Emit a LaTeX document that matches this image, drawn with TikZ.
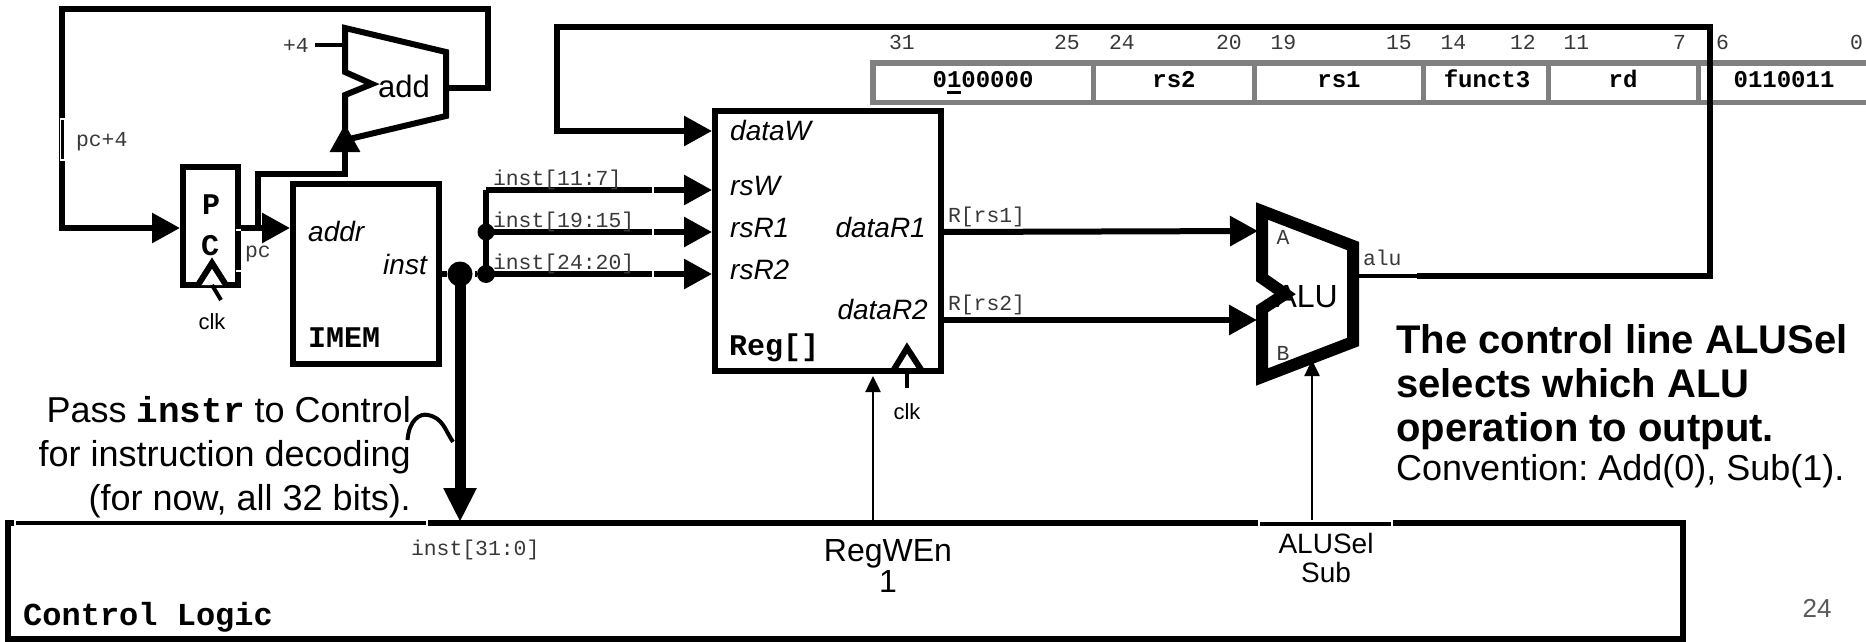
\documentclass[tikz,border=0pt]{standalone}
\usepackage{fontspec}
\setmainfont{Liberation Sans}
\setmonofont{Liberation Mono}
\usetikzlibrary{arrows.meta}
\newcommand{\fsz}[1]{\fontsize{#1}{#1}\selectfont}
\tikzset{
  x=1pt,y=-1pt,
  wire/.style={line width=6pt,line join=miter},
  big/.style={-{Triangle[length=28pt,width=29pt]}},
  small/.style={-{Triangle[length=16pt,width=15pt]},line width=2.5pt},
  blk/.style={draw,line width=6pt,inner sep=0pt,fill=none},
  dot/.style={circle,fill=black,inner sep=0pt},
  lbl/.style={inner sep=0pt,outer sep=0pt,text=black!78,font=\ttfamily\fsz{21.4}},
  fname/.style={inner sep=0pt,font=\fsz{28}\itshape},
  mb/.style={inner sep=0pt,font=\ttfamily\bfseries\fsz{30}},
  bitn/.style={lbl,anchor=base west},
  field/.style={inner sep=0pt,anchor=base,font=\ttfamily\bfseries\fsz{24}},
  fbox/.style={draw=black!50,line width=5.5pt},
  gap/.style={draw=white,line width=1.2pt},
}
\begin{document}
\frenchspacing
\begin{tikzpicture}
\useasboundingbox (0,0) rectangle (1866,642);
% blocks
\node[blk,minimum width=55.5pt,minimum height=118pt] (pc) at (210.5,226) {};
\node[blk,minimum width=146pt,minimum height=180pt] (imem) at (366,274) {};
\node[blk,minimum width=226pt,minimum height=260pt] (reg) at (828,241) {};
\node[blk,minimum width=1675pt,minimum height=116pt] (ctl) at (845.5,581) {};
% adder
\coordinate (addIn) at (345,45);
\coordinate (addOut) at (446,88);
\coordinate (addB) at (345,124);
\draw[wire] (345,28) -- (446,52) -- (446,116) -- (345,140) -- (345,95) -- (372,84) -- (345,72) -- cycle;
% ALU
\coordinate (aluA) at (1258,231);
\coordinate (aluB) at (1257,320);
\coordinate (aluS) at (1312,360);
\coordinate (aluOut) at (1356,276);
\draw[line width=12pt,miter limit=6] (1262,211) -- (1353,246) -- (1353,342) -- (1262,377) -- (1262,309) -- (1285,294) -- (1262,278) -- cycle;
% instruction fields
\begin{scope}
\path[clip] (860,40) rectangle (1866,120);
\node[fbox,inner sep=0pt,minimum width=1000pt,minimum height=39.5pt] (fields) at (1373,82.75) {};
\foreach \X in {1093,1254.5,1423,1548,1698}{\draw[draw=black!50,line width=5pt] (\X,60.5) -- (\X,105);}
\end{scope}
% wires
\coordinate (fbTop) at (62,9);
\coordinate (fbR) at (488,9);
\coordinate (fbAdd) at (488,88);
\coordinate (fbBot) at (62,228);
\coordinate (pcIn) at (180,228);
\draw[wire,big] (addOut) -- (fbAdd) -- (fbR) -- (fbTop) -- (fbBot) -- (pcIn);
\coordinate (pcOut) at (238,228);
\coordinate (imemIn) at (290,228);
\coordinate (pcJ) at (258,228);
\coordinate (pcU) at (258,174);
\coordinate (addU) at (345,174);
\draw[wire,big] (pcOut) -- (imemIn);
\draw[wire,big] (pcJ) -- (pcU) -- (addU) -- (addB);
\coordinate (fourS) at (315,45);
\draw[wire,line width=4pt] (fourS) -- (addIn);
% instruction bus
\coordinate (instO) at (439,274);
\node[dot,minimum size=25pt] (bus) at (460,274) {};
\node[dot,minimum size=18pt] (d2) at (486,274) {};
\node[dot,minimum size=17pt] (d1) at (486,232) {};
\coordinate (d0) at (486,190);
\coordinate (ctlIn) at (460,522);
\draw[wire] (instO) -- (bus);
\draw[line width=11pt,-{Triangle[length=34pt,width=31pt]}] (bus.center) -- (ctlIn);
\draw[wire] (bus) -- (d2);
\draw[wire] (d2.center) -- (d0);
\draw[wire,big] (d0) -- (712,190) coordinate (rsw);
\draw[wire,big] (d1.center) -- (712,232) coordinate (rsr1);
\draw[wire,big] (d2.center) -- (712,274) coordinate (rsr2);
% dataW feedback
\coordinate (wbR) at (1710,276);
\coordinate (wbT) at (1710,27);
\coordinate (wbL) at (557,27);
\coordinate (wbB) at (557,131);
\coordinate (regW) at (712,131);
\coordinate (aluW) at (1417,276);
\draw[line width=3.5pt] (aluOut) -- (aluW);
\draw[wire,big] (aluW) -- (wbR) -- (wbT) -- (wbL) -- (wbB) -- (regW);
% reg outs
\coordinate (r1) at (944,232);
\coordinate (r2) at (944,320);
\draw[wire,big] (r1) -- (aluA);
\draw[wire,big] (r2) -- (aluB);
% control lines
\coordinate (regEnS) at (873,523);
\coordinate (regEnT) at (873,376);
\coordinate (aluSelS) at (1312,523);
\draw[small] (regEnS) -- (regEnT);
\draw[small] (aluSelS) -- (aluS);
% clock triangles
\draw[wire,fill=white] (198,285) -- (212,263) -- (226,285);
\coordinate (clkA) at (212,285);
\coordinate (clkB) at (221,300);
\draw[wire,line width=4pt] (clkA) -- (clkB);
\draw[wire] (893,371) -- (907,348) -- (922,371);
\coordinate (clkC) at (907,371);
\coordinate (clkD) at (907,388);
\draw[wire,line width=4pt] (clkC) -- (clkD);
% white slivers
\draw[gap] (60.5,119) rectangle (64.5,160);
\draw[gap] (241,230) -- (236,230);
\draw[gap] (236,271) -- (241,271);
\draw[gap] (15,520.5) rectangle (427,526);
\draw[gap] (1259,521) rectangle (1392,526.5);
\draw[gap] (653,186) -- (653,194);
\draw[gap] (653,228) -- (653,236);
\draw[gap] (653,270) -- (653,278);
\draw[gap] (474,270) -- (474,278);
% jump curve
\draw[line width=4pt] (407.5,440) .. controls (409,420) and (420,413) .. (428,415) .. controls (443,418) and (445,430) .. (453,442);
% texts
\node[mb,anchor=base] (tP) at (211,214) {P};
\node[mb,anchor=base] (tC) at (210,255) {C};
\node[inner sep=0pt,anchor=base,font=\fsz{22}] (tclk1) at (212,329) {clk};
\node[inner sep=0pt,anchor=base,font=\fsz{22}] (tclk2) at (907,419) {clk};
\node[lbl,anchor=base west] (t4) at (283,53) {+4};
\node[lbl,anchor=base west] (tpc4) at (76,146) {pc+4};
\node[lbl,anchor=base west] (tpc) at (245,257) {pc};
\node[inner sep=0pt,anchor=base west,font=\fsz{31}] (tadd) at (378,97) {add};
\node[fname,anchor=base west] (taddr) at (308,241) {addr};
\node[fname,anchor=base east] (tinst) at (427,274) {inst};
\node[mb,anchor=base west] (timem) at (308,347) {IMEM};
\node[lbl,anchor=base west] (i1) at (493,185) {inst[11:7]};
\node[lbl,anchor=base west] (i2) at (493,227) {inst[19:15]};
\node[lbl,anchor=base west] (i3) at (493,269) {inst[24:20]};
\node[fname,anchor=base west] (tdw) at (730,140) {dataW};
\node[fname,anchor=base west] (trw) at (730,195) {rsW};
\node[fname,anchor=base west] (tr1) at (730,237) {rsR1};
\node[fname,anchor=base west] (tr2) at (730,279) {rsR2};
\node[fname,anchor=base east] (td1) at (926,237) {dataR1};
\node[fname,anchor=base east] (td2) at (928,319) {dataR2};
\node[mb,anchor=base west] (treg) at (729,355) {Reg[]};
\node[lbl,anchor=base west] (tR1) at (948,222) {R[rs1]};
\node[lbl,anchor=base west] (tR2) at (948,310) {R[rs2]};
\node[lbl,anchor=base] (tA) at (1283,244) {A};
\node[lbl,anchor=base] (tB) at (1283,360) {B};
\node[inner sep=0pt,anchor=base east,font=\fsz{32}] (tALU) at (1338,307) {ALU};
\node[lbl,anchor=base west] (talu) at (1363,265) {alu};
\foreach \T/\X in {31/889,25/1054,24/1109,20/1216,19/1270.5,15/1386,14/1440.5,12/1510,11/1563.6,7/1673,6/1716,0/1850}{\node[bitn] (b\T) at (\X,50) {\T};}
\node[field] (f1) at (983,88) {0\rlap{\rule[-6pt]{14pt}{3pt}}100000};
\node[field] (f2) at (1174,88) {rs2};
\node[field] (f3) at (1339,88) {rs1};
\node[field] (f4) at (1487,88) {funct3};
\node[field] (f5) at (1623,88) {rd};
\node[field] (f6) at (1784,88) {0110011};
\node[inner sep=0pt,anchor=north east,align=right,font=\fontsize{36}{44}\selectfont] (tpass) at (411,396) {Pass {\ttfamily\bfseries instr} to Control\\for instruction decoding\\(for now, all 32 bits).};
\node[lbl,anchor=base west] (ti) at (411,555) {inst[31:0]};
\node[inner sep=0pt,anchor=base west,font=\ttfamily\bfseries\fsz{32}] (tctl) at (23,625) {Control Logic};
\node[inner sep=0pt,anchor=base,font=\fsz{32}] (tw) at (888,561) {RegWEn};
\node[inner sep=0pt,anchor=base,font=\fsz{32}] (tone) at (888,592) {1};
\node[inner sep=0pt,anchor=base,font=\fsz{28}] (ts1) at (1326,553) {ALUSel};
\node[inner sep=0pt,anchor=base,font=\fsz{28}] (ts2) at (1326,582) {Sub};
\node[inner sep=0pt,anchor=base,font=\fsz{26},text=black!65] (tn) at (1817,617) {24};
\node[inner sep=0pt,anchor=north west,align=left,font=\fontsize{40}{44}\selectfont] (tnote) at (1396,324.5) {\textbf{The control line ALUSel}\\\textbf{selects which ALU}\\\textbf{operation to output.}\\[-5pt]\fontsize{36}{39}\selectfont Convention: Add(0), Sub(1).};
\end{tikzpicture}
\end{document}
